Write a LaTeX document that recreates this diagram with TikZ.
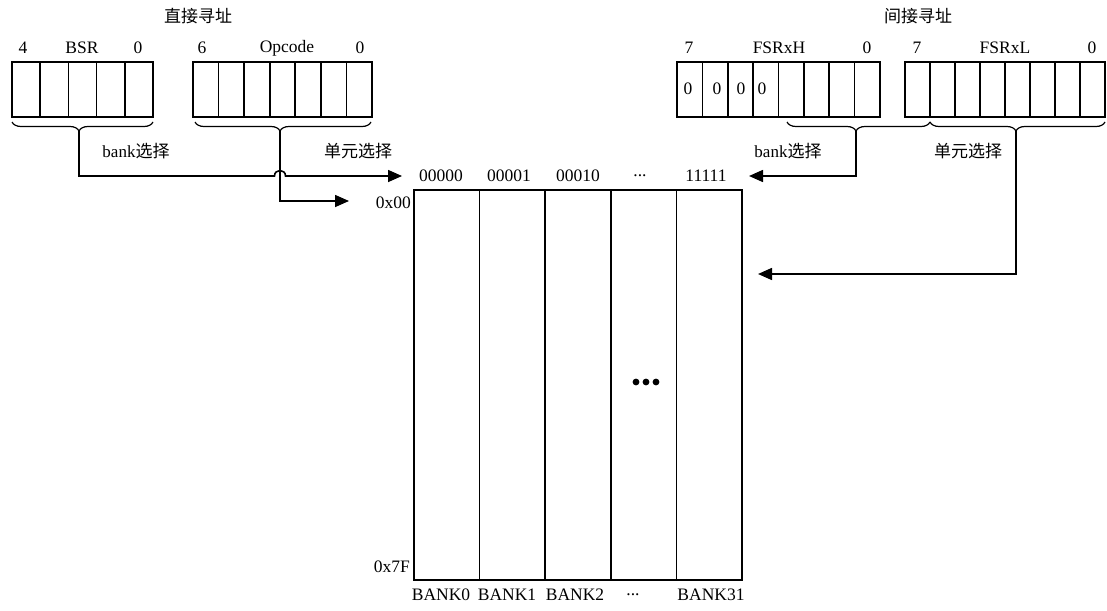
\documentclass[tikz,border=0pt]{standalone}
\usepackage{fontspec}
\setmainfont{Liberation Serif}
\newfontfamily\cjk{Noto Sans CJK SC}
\usetikzlibrary{arrows.meta,decorations.pathreplacing}
\begin{document}
\begin{tikzpicture}[x=1pt,y=-1pt,
  lbl/.style={font=\fontsize{17.5}{20}\selectfont, inner sep=0pt},
  cj/.style={font=\fontsize{17}{20}\selectfont, inner sep=0pt},
  regbox/.style={draw, line width=1.6pt, rectangle, inner sep=0pt},
  wire/.style={line width=1.6pt},
  arr/.style={wire, -{Triangle[length=14pt,width=12pt]}},
  brc/.style={line width=1.2pt, decorate, decoration={brace, mirror, amplitude=9pt, aspect=#1}},
]
\useasboundingbox (0,0) rectangle (1107,610);

% titles
\node[cj] (t1) at (198,16) {\cjk 直接寻址};
\node[cj] (t2) at (918,16) {\cjk 间接寻址};

% register bit labels
\node[lbl] (b4) at (23,48) {4};
\node[lbl] (bn) at (82,48) {BSR};
\node[lbl] (b0) at (138,48) {0};
\node[lbl] (o6) at (202,48) {6};
\node[lbl] (on) at (287,48) {Opcode};
\node[lbl] (o0) at (360,48) {0};
\node[lbl] (h7) at (689,48) {7};
\node[lbl] (hn) at (779,48) {FSRxH};
\node[lbl] (h0) at (867,48) {0};
\node[lbl] (l7) at (917,48) {7};
\node[lbl] (ln) at (1005,48) {FSRxL};
\node[lbl] (l0) at (1092,48) {0};

% registers
\node[regbox, minimum width=141pt, minimum height=55pt] (bsr) at (82.5,89.5) {};
\foreach \i in {1,...,4} \draw[wire] ({12+\i*28.2},62) -- ({12+\i*28.2},117);
\node[regbox, minimum width=179pt, minimum height=55pt] (opc) at (282.5,89.5) {};
\foreach \i in {1,...,6} \draw[wire] ({193+\i*25.57},62) -- ({193+\i*25.57},117);
\node[regbox, minimum width=203pt, minimum height=55pt] (fsrh) at (778.5,89.5) {};
\foreach \i in {1,...,7} \draw[wire] ({677+\i*25.375},62) -- ({677+\i*25.375},117);
\node[regbox, minimum width=200pt, minimum height=55pt] (fsrl) at (1005,89.5) {};
\foreach \i in {1,...,7} \draw[wire] ({905+\i*25},62) -- ({905+\i*25},117);

\node[lbl] (z1) at (688,89) {0};
\node[lbl] (z2) at (717,89) {0};
\node[lbl] (z3) at (741,89) {0};
\node[lbl] (z4) at (762,89) {0};

% braces
\draw[brc=0.475] (12,122) -- (153,122);
\draw[brc=0.483] (195,122) -- (371,122);
\draw[brc=0.4825] (787,122) -- (930,122);
\draw[brc=0.491] (930,122) -- (1105,122);
\coordinate (bsrtip) at (79,131);
\coordinate (opctip) at (280,131);
\coordinate (fhtip) at (856,131);
\coordinate (fltip) at (1016,131);

% selection labels
\node[cj] (s1) at (136,151) {bank\cjk 选择};
\node[cj] (s2) at (358,151) {\cjk 单元选择};
\node[cj] (s3) at (788,151) {bank\cjk 选择};
\node[cj] (s4) at (968,151) {\cjk 单元选择};

% memory
\node[regbox, minimum width=328pt, minimum height=390pt] (mem) at (578,385) {};
\foreach \i in {1,...,4} \draw[wire] ({414+\i*65.6},190) -- ({414+\i*65.6},580);
\fill (636,382) circle (3.4pt);
\fill (646,382) circle (3.4pt);
\fill (656,382) circle (3.4pt);

\node[lbl] (c0) at (441,176) {00000};
\node[lbl] (c1) at (509,176) {00001};
\node[lbl] (c2) at (578,176) {00010};
\node[lbl] (c3) at (640,176) {...};
\node[lbl] (c4) at (706,176) {11111};
\node[lbl, anchor=east] (a0) at (411,203) {0x00};
\node[lbl, anchor=east] (a7) at (410,567) {0x7F};
\node[lbl] (k0) at (441,595) {BANK0};
\node[lbl] (k1) at (507,595) {BANK1};
\node[lbl] (k2) at (575,595) {BANK2};
\node[lbl] (k3) at (633,595) {...};
\node[lbl] (k4) at (711,595) {BANK31};

% arrow targets
\coordinate (in0) at (402,176);
\coordinate (in1) at (349,201);
\coordinate (in2) at (749,176);
\coordinate (in3) at (758,274);

% connectors
\draw[arr] (bsrtip) -- (79,176) -- (274.5,176) .. controls (274.5,168.7) and (285.5,168.7) .. (285.5,176) -- (in0);
\draw[arr] (opctip) -- (280,201) -- (in1);
\draw[arr] (fhtip) -- (856,176) -- (in2);
\draw[arr] (fltip) -- (1016,274) -- (in3);
\end{tikzpicture}
\end{document}
